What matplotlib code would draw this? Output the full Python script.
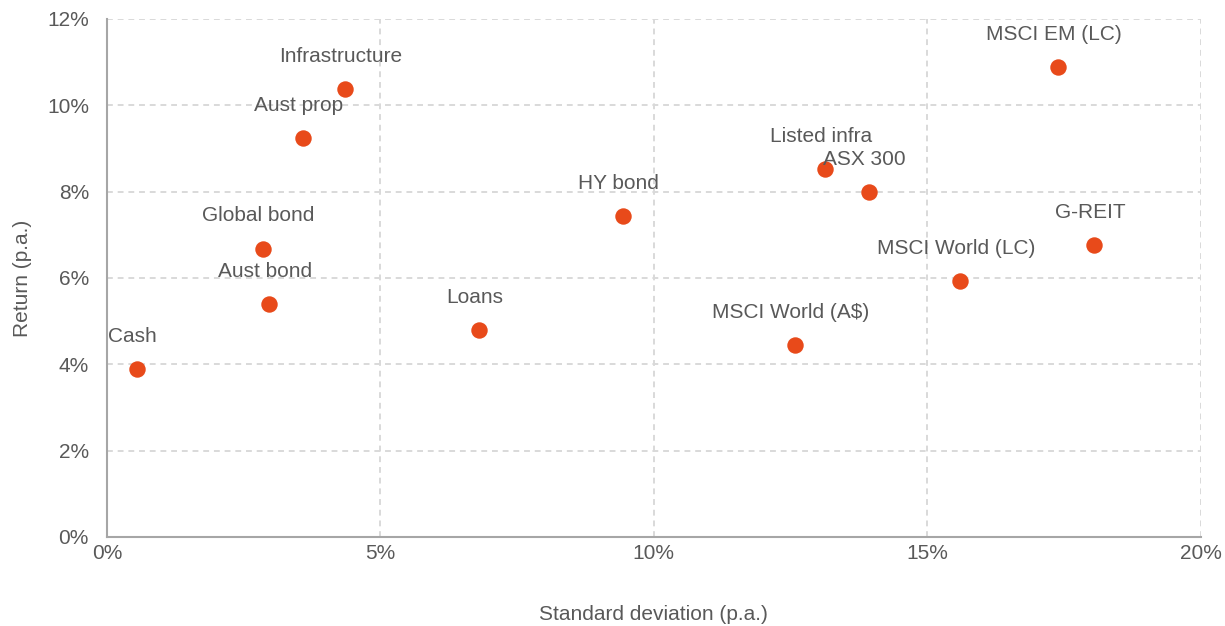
import matplotlib.pyplot as plt
from matplotlib.ticker import PercentFormatter

# risk / return by asset class (% p.a.)
names = ["Cash", "Global bond", "Aust bond", "Aust prop", "Infrastructure", "Loans",
         "HY bond", "MSCI World (A$)", "Listed infra", "ASX 300", "MSCI World (LC)",
         "G-REIT", "MSCI EM (LC)"]
std_dev = [0.55, 2.85, 2.96, 3.58, 4.35, 6.80, 9.43, 12.58, 13.13, 13.93, 15.61, 18.06, 17.40]
returns = [3.89, 6.68, 5.39, 9.24, 10.37, 4.79, 7.43, 4.44, 8.52, 7.99, 5.93, 6.76, 10.88]

plt.rcParams['font.family'] = ['Liberation Sans', 'DejaVu Sans']
grey = '#595959'

fig = plt.figure(figsize=(12.25, 6.26), dpi=100)
ax = fig.add_axes([0.0873, 0.1422, 0.8927, 0.8275])

ax.scatter(std_dev, returns, s=140, color='#E84A1A', zorder=3, linewidths=0)
for n, x, y in zip(names, std_dev, returns):
    ax.annotate(n, (x, y), xytext=(-3, 23.5), textcoords='offset points',
                ha='center', va='center', fontsize=15, color=grey)

ax.set_xlim(0, 20)
ax.set_ylim(0, 12)
ax.set_xticks([0, 5, 10, 15, 20])
ax.set_yticks([0, 2, 4, 6, 8, 10, 12])
ax.xaxis.set_major_formatter(PercentFormatter(decimals=0))
ax.yaxis.set_major_formatter(PercentFormatter(decimals=0))
ax.tick_params(length=0, labelsize=15, labelcolor=grey)
ax.tick_params(axis='y', pad=13)
ax.tick_params(axis='x', pad=5)

ax.grid(True, linestyle=(0, (3, 2.5)), color='#D9D9D9', linewidth=1.4)
ax.set_axisbelow(True)
for s in ['top', 'right']:
    ax.spines[s].set_visible(False)
for s in ['left', 'bottom']:
    ax.spines[s].set_color('#A6A6A6')
    ax.spines[s].set_linewidth(1.5)

ax.set_xlabel("Standard deviation (p.a.)", fontsize=15, color=grey, labelpad=30)
ax.set_ylabel("Return (p.a.)", fontsize=15, color=grey, labelpad=11)

fig.savefig("out.png", dpi=100)
